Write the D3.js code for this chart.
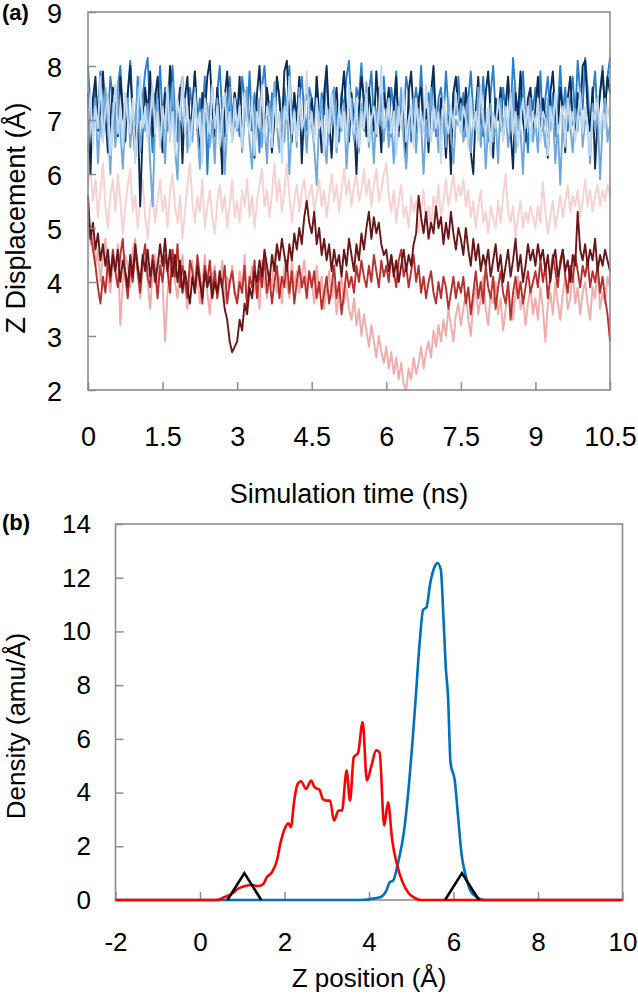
<!DOCTYPE html>
<html><head><meta charset="utf-8">
<script src="https://cdn.jsdelivr.net/npm/d3@7"></script>
<style>
body{margin:0;background:#fff}
svg{display:block}
text{font-family:Arial,"Liberation Sans",sans-serif;fill:#000}
</style>
</head><body>
<script>
// ---------- Panel (a): Z displacement vs simulation time ----------
const timeStep = 0.05; // ns between samples
const timeTicks = [0, 1.5, 3, 4.5, 6, 7.5, 9, 10.5];
const dispTicks = [2, 3, 4, 5, 6, 7, 8, 9];

const palePink = [
5.8,6.1,5.5,5.9,5.2,5.7,6.2,5.4,5.0,5.6,5.9,5.3,6.0,5.5,4.9,5.4,5.8,6.1,5.3,5.6,5.0,5.5,5.9,5.2,4.8,5.4,5.7,5.1,5.5,5.9,
5.3,5.6,5.0,5.7,6.0,5.4,5.1,5.6,4.8,5.3,5.8,6.2,5.5,5.1,5.6,5.3,5.9,5.0,5.4,5.7,5.2,4.9,5.5,5.8,5.3,5.6,5.0,5.4,5.9,5.2,
5.5,5.1,5.7,5.4,5.9,5.2,5.6,5.0,5.5,5.8,6.1,5.4,5.7,5.2,5.6,6.2,5.5,5.9,5.3,5.7,6.2,5.6,5.1,5.5,5.8,5.3,5.7,5.9,5.4,5.6,
5.8,5.3,5.6,5.9,5.4,5.7,5.2,5.6,6.0,5.5,5.8,5.3,5.7,6.1,5.6,5.9,5.4,5.8,6.0,5.5,5.7,6.1,5.6,5.9,5.4,5.8,6.1,5.5,5.7,6.0,
6.2,5.6,5.3,5.7,5.1,5.5,5.8,5.2,5.4,5.0,5.6,5.3,5.5,4.9,5.3,5.7,5.1,5.4,5.0,5.6,5.3,5.8,5.2,5.5,5.9,5.4,5.7,6.0,5.5,5.8,
5.6,5.9,5.4,5.7,5.2,5.5,5.0,5.4,5.7,5.1,5.3,4.9,5.4,5.2,5.0,5.5,5.1,5.6,6.0,5.3,5.1,5.4,4.8,5.2,5.5,5.0,5.3,5.1,5.4,5.2,
5.0,5.4,5.1,5.85,5.3,4.9,5.2,5.5,5.0,5.3,5.6,5.2,5.5,5.8,5.3,5.6,5.4,5.7,5.2,5.5,5.9,5.4,5.7,5.3,5.6,5.8,5.4,5.7,5.5,5.8,
5.6];
const pink = [
5.3,4.7,4.9,4.3,4.6,4.0,4.5,4.8,4.1,3.8,4.4,4.2,4.7,3.2,4.0,4.5,4.3,3.9,4.6,4.8,4.1,3.7,4.3,4.6,4.0,3.5,4.2,4.5,3.9,4.4,
4.0,2.9,3.8,4.3,4.6,4.0,3.7,4.2,4.5,3.9,3.5,4.1,4.4,3.8,4.2,3.6,4.0,4.5,3.8,3.4,4.1,4.3,3.7,4.0,4.4,3.6,4.1,3.9,4.3,3.8,
3.7,4.2,3.9,4.5,3.6,4.0,4.3,3.8,4.1,3.5,4.4,4.0,3.7,4.2,3.9,4.5,3.8,4.1,3.6,4.3,4.0,3.7,4.4,3.9,4.2,3.8,4.1,4.4,3.9,4.2,
4.0,3.6,4.3,3.8,4.1,3.5,3.9,4.2,3.7,4.0,3.4,3.8,4.1,3.6,3.9,3.5,3.3,3.7,3.2,3.5,3.0,3.4,3.1,2.8,3.2,2.9,2.6,3.0,2.7,2.5,
2.8,2.4,2.7,2.3,2.6,2.2,2.5,2.1,2.0,2.4,2.2,2.6,2.3,2.5,2.8,2.4,2.7,2.9,2.6,3.1,2.8,3.2,2.9,3.3,3.0,3.5,3.2,2.9,3.4,3.6,
3.2,3.5,3.8,3.3,3.0,3.6,3.9,3.4,3.7,4.1,3.5,3.2,3.8,3.6,4.0,3.4,3.7,3.1,3.5,3.9,3.6,3.3,3.8,4.1,3.5,3.7,3.2,3.6,3.9,3.4,
3.7,3.3,3.9,3.5,2.9,3.6,3.8,3.4,4.0,3.6,3.3,3.8,4.1,3.5,3.7,4.2,3.6,3.9,3.4,3.8,4.0,3.6,3.3,3.9,3.7,4.3,3.5,3.8,3.6,4.1,
3.9];
const red = [
5.1,4.9,4.6,4.3,3.9,3.6,4.1,3.8,4.4,4.0,4.6,4.2,3.9,4.5,4.8,4.1,3.7,4.3,4.0,4.6,4.2,3.8,4.4,4.7,4.1,3.9,4.5,4.2,3.7,4.3,
4.0,4.5,4.2,3.8,4.6,4.1,4.7,3.9,4.3,4.0,3.7,4.4,4.2,3.8,4.5,4.1,3.6,4.3,4.0,4.4,3.8,4.2,3.7,4.1,3.9,4.3,3.6,4.0,4.2,3.8,
3.6,4.0,3.8,4.3,3.5,4.1,3.9,4.4,3.7,4.2,3.9,4.5,3.8,4.1,3.6,4.0,4.3,3.7,4.1,3.9,4.4,3.8,4.2,3.6,4.0,4.3,3.9,4.1,3.7,4.2,
3.9,4.2,3.7,4.0,3.5,3.8,4.1,3.6,3.9,4.3,3.7,4.0,3.4,3.8,4.2,3.9,4.1,3.8,4.3,4.0,4.4,4.1,3.9,4.3,4.0,4.5,4.2,3.9,4.4,4.1,
4.3,4.0,4.5,4.2,3.9,4.4,4.6,4.1,4.3,3.9,4.2,4.5,4.0,4.3,3.8,4.1,3.7,4.0,4.2,3.8,3.6,4.0,3.7,4.1,3.9,3.5,3.8,4.1,3.7,4.0,
3.8,4.1,3.6,3.9,3.4,3.8,4.2,3.7,4.0,3.6,4.3,3.9,3.7,4.1,3.5,3.9,4.2,3.8,3.6,4.0,3.3,3.8,4.1,3.7,4.0,3.6,3.9,4.2,3.8,4.0,
4.2,3.9,4.4,4.0,4.3,3.7,4.1,4.5,4.2,3.9,4.4,4.6,4.1,3.8,4.3,4.0,4.5,4.2,3.9,4.3,4.1,4.4,3.9,4.2,4.0,4.3,3.8,4.1,3.7,3.4,
2.9];
const maroon = [
5.6,4.8,5.1,4.6,4.9,4.4,4.7,4.3,4.6,4.1,4.5,4.2,4.6,4.0,4.4,4.2,3.9,4.5,4.1,4.7,4.3,4.0,4.5,4.2,4.6,4.1,4.4,4.0,4.3,4.7,
4.3,4.8,4.2,4.6,4.1,4.5,4.0,4.4,3.8,4.2,3.9,3.6,4.1,3.8,4.3,4.0,3.7,4.2,3.9,4.1,3.7,4.0,3.8,4.2,3.9,3.5,3.3,2.9,2.7,2.8,
2.9,3.3,3.1,3.6,3.4,3.9,3.7,4.2,4.0,4.4,4.1,4.6,4.3,4.0,4.5,4.2,4.7,4.4,4.8,4.5,4.2,4.7,4.4,4.9,4.6,5.0,4.7,5.2,5.5,5.1,
4.9,5.3,4.7,5.0,4.5,4.8,4.4,4.7,4.2,4.6,4.3,4.5,4.1,4.6,4.3,4.8,4.5,4.2,4.7,4.4,4.9,4.6,5.0,5.3,4.8,5.2,4.9,5.1,4.7,4.5,
4.6,4.2,4.5,4.1,4.4,4.0,4.3,4.6,4.2,4.5,4.3,4.7,4.9,5.6,5.2,4.9,5.3,4.8,5.1,4.9,5.4,5.0,5.2,4.7,5.1,4.8,5.3,4.9,4.6,5.0,
4.8,4.5,5.0,4.6,4.3,4.8,4.4,4.7,4.2,4.5,4.3,4.6,4.1,4.4,4.7,4.2,4.5,4.0,4.3,4.6,4.1,4.4,4.8,4.2,4.5,4.0,4.3,4.7,4.4,4.6,
4.3,4.7,4.4,4.6,4.2,4.5,4.0,4.4,4.6,4.1,4.3,4.6,4.2,4.4,4.0,4.5,4.3,5.3,4.6,4.4,4.7,4.3,4.6,4.4,4.8,4.2,4.5,4.3,4.6,4.4,
4.2];
const brightBlue = [
8.0,7.2,6.7,7.6,7.1,7.9,6.8,7.5,7.0,7.8,7.4,6.6,7.6,8.0,7.1,6.8,7.5,8.1,7.2,6.7,7.8,7.0,7.4,7.9,8.15,7.1,6.4,7.5,7.2,8.0,
7.0,7.6,6.8,7.4,8.0,7.1,6.6,7.5,7.8,7.0,6.7,7.6,7.2,7.9,6.8,7.4,7.0,7.8,6.0,7.2,7.6,6.8,7.5,8.0,7.1,6.7,7.4,7.8,7.0,7.5,
7.2,6.7,7.8,7.4,7.0,7.9,6.8,7.5,7.1,6.4,7.6,8.0,7.2,6.8,7.5,7.0,7.8,7.4,6.6,7.6,7.1,8.0,7.0,7.5,6.7,7.4,7.8,7.1,6.8,7.6,
7.4,7.0,7.8,6.7,7.5,7.1,7.9,6.8,7.4,7.6,7.0,6.6,7.5,7.2,7.8,8.1,7.1,6.7,7.6,7.4,8.05,7.2,6.8,7.5,7.9,7.0,6.7,7.6,7.2,7.8,
7.1,6.8,7.6,7.2,7.9,6.7,7.4,7.0,7.8,7.5,6.6,7.2,7.6,7.1,8.0,7.0,6.8,7.5,7.2,7.8,6.7,7.4,7.6,7.0,7.9,7.2,6.8,7.5,7.1,7.8,
7.0,7.5,6.7,7.4,7.9,7.1,6.8,7.6,7.2,7.8,7.0,6.6,7.5,8.0,7.1,7.4,6.8,7.6,7.2,7.8,7.0,8.15,7.5,6.8,7.4,7.9,7.0,6.4,7.5,7.2,
7.6,7.1,7.9,6.8,7.4,7.8,7.0,7.5,6.7,7.2,8.0,7.1,7.6,6.8,7.4,7.8,7.0,8.1,7.5,7.2,8.15,7.6,6.8,7.4,7.9,7.0,7.5,8.0,7.2,7.8,
8.15];
const navy = [
7.5,6.0,7.4,7.8,6.8,7.2,7.9,7.1,6.4,7.0,7.6,7.4,6.7,7.8,7.2,6.6,7.5,8.0,7.0,6.3,7.2,5.4,6.8,7.6,7.1,7.9,6.7,7.4,7.8,7.0,
6.4,7.5,7.1,8.0,7.2,6.6,7.0,7.6,6.2,7.4,7.8,6.8,7.2,7.9,7.0,6.3,7.5,7.1,7.8,8.1,7.2,6.7,7.6,7.0,6.0,7.4,7.9,7.1,6.7,7.5,
7.0,7.8,6.6,7.2,7.6,6.8,7.4,6.3,7.5,8.0,7.1,6.7,7.6,7.2,6.4,7.0,7.8,7.4,6.8,7.9,8.1,7.1,6.6,7.5,7.0,7.8,6.2,7.2,7.6,7.0,
7.4,6.7,7.8,7.1,6.4,7.5,8.0,7.0,6.3,7.2,7.6,6.8,7.4,7.9,7.1,6.6,7.5,7.0,6.0,7.2,7.8,7.4,6.7,7.6,7.1,6.8,7.9,7.2,6.4,7.5,
7.1,7.6,6.7,7.2,7.8,6.8,7.4,7.0,6.2,7.5,7.9,7.1,6.6,7.4,7.6,6.8,7.2,6.4,7.5,8.0,7.0,6.7,7.4,7.1,6.3,7.2,6.0,7.5,7.8,7.1,
7.4,6.8,7.6,7.1,6.4,6.0,7.2,7.8,7.0,6.7,7.5,7.9,7.1,6.3,7.4,7.0,7.6,6.7,7.2,7.8,6.8,6.1,7.5,7.1,7.9,7.0,6.6,7.4,7.6,6.8,
7.2,7.8,6.7,7.4,7.0,6.3,7.5,7.9,7.1,6.8,7.6,7.2,6.4,7.4,7.8,7.0,6.7,7.5,7.1,8.0,8.1,7.2,6.8,7.6,6.1,7.0,7.5,7.9,7.2,7.8,
7.5];
const midBlue = [
6.4,7.2,6.8,7.4,6.2,7.0,6.6,7.6,6.9,6.0,7.3,6.5,7.7,6.8,6.1,7.0,7.4,6.5,7.2,6.9,7.6,6.4,7.0,6.8,7.3,6.2,5.4,6.9,7.4,6.6,
7.0,6.2,7.3,6.8,7.7,6.5,5.9,7.2,6.9,7.4,6.4,7.0,6.6,7.6,6.8,6.1,7.2,6.9,7.3,6.5,7.0,6.2,7.4,6.8,7.2,6.0,6.9,7.6,6.6,7.0,
6.8,7.3,6.4,7.0,7.6,6.6,6.1,7.2,6.9,7.4,6.5,7.0,6.2,7.3,6.8,7.7,6.9,6.4,7.2,6.6,7.4,6.0,6.9,7.2,6.5,7.6,6.8,7.0,6.4,7.3,
6.9,6.5,5.8,7.0,7.4,6.6,6.2,7.2,6.9,7.6,6.4,7.0,6.8,7.3,6.1,6.9,7.4,6.6,7.0,6.4,7.3,6.8,7.7,6.5,7.0,6.2,7.2,6.9,7.4,6.6,
7.2,6.5,7.0,6.2,7.3,6.9,7.6,6.6,6.1,7.0,6.8,7.4,6.4,7.2,6.9,6.0,7.0,6.6,7.6,6.8,7.2,6.4,6.9,7.3,6.5,7.4,6.8,6.2,7.0,6.9,
7.3,6.6,6.9,7.4,6.4,7.0,6.8,7.6,6.5,7.2,6.1,6.9,7.3,6.6,7.0,6.2,7.4,6.8,7.2,6.5,6.9,7.6,6.4,7.0,6.8,6.0,7.2,6.9,7.4,6.6,
7.0,6.4,7.3,6.9,6.5,7.4,6.8,7.2,6.2,6.9,5.8,7.0,6.6,7.4,6.9,6.4,7.2,6.8,7.6,6.5,7.0,6.9,6.2,7.3,6.8,7.2,5.9,6.9,7.4,6.6,
6.9];
const paleBlue = [
7.0,7.5,6.5,7.25,6.85,7.8,6.6,7.15,7.4,6.35,7.0,7.65,6.75,7.25,6.5,7.5,7.0,6.75,7.4,6.2,7.15,7.8,6.85,7.25,6.6,7.0,7.65,6.75,7.15,6.5,
7.25,6.85,7.65,6.6,7.15,6.35,7.4,7.0,7.8,6.75,7.25,6.5,7.0,7.5,6.85,7.15,6.2,7.4,7.0,6.75,7.65,6.85,7.25,6.5,7.0,7.5,6.75,7.15,6.6,7.4,
6.85,7.25,6.5,7.5,7.0,6.75,7.4,6.35,7.15,6.85,7.65,6.6,7.25,7.0,6.5,7.4,6.85,7.15,6.2,7.25,7.0,7.8,6.75,7.15,6.6,7.4,6.85,7.0,7.9,6.75,
7.15,6.6,7.4,6.85,7.0,6.35,7.25,6.75,7.5,7.0,6.5,7.25,6.85,7.15,6.6,7.65,7.0,6.75,7.4,6.5,7.15,6.85,7.5,6.6,7.0,7.25,6.75,7.15,8.0,6.85,
7.0,7.4,6.75,7.15,6.35,7.25,6.85,7.5,6.6,7.0,7.25,6.5,7.4,6.85,7.15,6.75,7.65,7.0,6.6,7.25,6.85,7.15,6.2,7.4,7.0,6.75,7.25,6.85,7.5,7.0,
6.75,7.25,7.0,6.5,7.4,6.85,7.15,6.6,7.65,7.0,6.75,7.25,6.35,7.15,6.85,7.4,7.0,6.6,7.25,6.85,7.5,6.75,7.15,6.5,7.0,7.4,6.85,7.25,6.6,7.15,
6.85,7.4,6.6,7.15,7.0,6.35,7.25,6.85,7.5,6.75,7.0,7.25,6.5,7.4,6.85,7.15,6.6,7.0,7.5,6.75,7.25,6.85,6.35,7.15,7.0,7.4,6.75,7.15,6.85,7.25,
7.0];

const seriesA = [
  {name: "palePink", values: palePink, color: "#f8d0d0"},
  {name: "pink", values: pink, color: "#f2aaaa"},
  {name: "red", values: red, color: "#b8302e"},
  {name: "maroon", values: maroon, color: "#6a1518"},
  {name: "brightBlue", values: brightBlue, color: "#2780cf"},
  {name: "navy", values: navy, color: "#0c2c55"},
  {name: "midBlue", values: midBlue, color: "#6ea8dd"},
  {name: "paleBlue", values: paleBlue, color: "#c2daf0"}
];

// ---------- Panel (b): density profile ----------
const zTicks = [-2, 0, 2, 4, 6, 8, 10];
const densTicks = [0, 2, 4, 6, 8, 10, 12, 14];
const redZ = [-2,0.4,0.57,0.77,0.89,1.05,1.21,1.38,1.5,1.58,1.7,1.82,1.9,2.02,2.09,2.15,2.23,2.31,2.39,2.51,2.63,2.71,2.83,2.91,3.0,3.08,3.17,3.28,3.36,3.47,3.55,3.64,3.74,3.85,3.95,4.05,4.17,4.25,4.36,4.45,4.55,4.66,4.78,4.94,5.06,5.22,10];
const redD = [0,0,0.1,0.25,0.41,0.51,0.56,0.52,0.6,0.85,1.03,1.47,2.09,2.71,2.86,2.71,3.7,4.32,4.42,4.14,4.45,4.2,4.1,3.75,3.7,3.7,2.96,3.33,3.33,4.82,3.7,5.32,5.47,6.63,4.45,4.95,5.57,5.5,2.77,3.64,2.21,1.34,0.72,0.25,0.1,0,0];
const blueZ = [-2,3.8,4.13,4.29,4.41,4.49,4.57,4.7,4.82,4.94,5.02,5.1,5.2,5.28,5.36,5.45,5.55,5.62,5.7,5.76,5.82,5.87,5.93,6.03,6.11,6.19,6.28,6.4,6.56,6.72,10];
const blueD = [0,0,0.06,0.12,0.35,0.66,0.72,1.47,2.46,4.2,5.7,7.4,9.6,10.8,10.9,11.8,12.4,12.55,12.3,10.6,8.6,7.6,5.1,4.45,3.08,1.71,0.97,0.35,0.1,0,0];
const tri1Z = [0.65, 1.05, 1.45];
const tri2Z = [5.8, 6.2, 6.6];
const triD = [0, 1, 0];

// ---------- drawing ----------
const W = 638, H = 998, FSA = 27, FSB = 26;
const svg = d3.select("body").append("svg").attr("width", W).attr("height", H);
const boxColor = "#8c8c8c";

// Panel A
const xA = d3.scaleLinear().domain([0, 10.5]).range([88, 610]);
const yA = d3.scaleLinear().domain([2, 9]).range([390, 12]);
const gA = svg.append("g");

const lineA = d3.line().x((d, i) => xA(i * timeStep)).y(d => yA(d));
seriesA.forEach(s => {
  gA.append("path").datum(s.values).attr("d", lineA)
    .attr("fill", "none").attr("stroke", s.color).attr("stroke-width", 1.9)
    .attr("stroke-linejoin", "round");
});

function styleAxis(fs) {
  return g => {
    g.select(".domain").remove();
    g.selectAll(".tick line").attr("stroke", boxColor).attr("stroke-width", 1.5);
    g.selectAll(".tick text").attr("font-size", fs).attr("font-family", "Arial, 'Liberation Sans', sans-serif").attr("fill", "#000");
  };
}

gA.append("g").attr("transform", `translate(${xA(0)},0)`)
  .call(d3.axisLeft(yA).tickValues(dispTicks).tickSize(-8).tickPadding(26).tickFormat(d => String(d)))
  .call(styleAxis(FSA))
  .call(g => g.selectAll(".tick text").attr("dy", "0.4em"));
gA.append("g").attr("transform", `translate(0,${yA(2)})`)
  .call(d3.axisBottom(xA).tickValues(timeTicks).tickSize(-8).tickPadding(37).tickFormat(d => String(d)))
  .call(styleAxis(FSA));
gA.append("rect").attr("x", xA(0)).attr("y", yA(9)).attr("width", xA(10.5) - xA(0)).attr("height", yA(2) - yA(9))
  .attr("fill", "none").attr("stroke", boxColor).attr("stroke-width", 1.6);

svg.append("text").attr("x", 2).attr("y", 20).attr("font-size", 22).attr("font-weight", "bold").text("(a)");
svg.append("text").attr("transform", "translate(25,218) rotate(-90)").attr("text-anchor", "middle")
  .attr("font-size", FSA).text("Z Displacement (Å)");
svg.append("text").attr("x", (xA(0) + xA(10.5)) / 2).attr("y", 503).attr("text-anchor", "middle")
  .attr("font-size", FSA).text("Simulation time (ns)");

// Panel B
const xB = d3.scaleLinear().domain([-2, 10]).range([115.5, 622.5]);
const yB = d3.scaleLinear().domain([0, 14]).range([900, 524]);
const gB = svg.append("g");

gB.append("g").attr("transform", `translate(${xB(-2)},0)`)
  .call(d3.axisLeft(yB).tickValues(densTicks).tickSize(-8).tickPadding(24.5).tickFormat(d => String(d)))
  .call(styleAxis(FSB));
gB.append("g").attr("transform", `translate(0,${yB(0)})`)
  .call(d3.axisBottom(xB).tickValues(zTicks).tickSize(-8).tickPadding(33).tickFormat(d => String(d)))
  .call(styleAxis(FSB));
gB.append("rect").attr("x", xB(-2)).attr("y", yB(14)).attr("width", xB(10) - xB(-2)).attr("height", yB(0) - yB(14))
  .attr("fill", "none").attr("stroke", boxColor).attr("stroke-width", 1.6);

const lineB = d3.line().x(d => xB(d[0])).y(d => yB(d[1])).curve(d3.curveMonotoneX);
gB.append("path").datum(d3.zip(blueZ, blueD)).attr("d", lineB)
  .attr("fill", "none").attr("stroke", "#0070c0").attr("stroke-width", 2.6);
gB.append("path").datum(d3.zip(redZ, redD)).attr("d", lineB)
  .attr("fill", "none").attr("stroke", "#ff0000").attr("stroke-width", 2.6);
const triLine = d3.line().x(d => xB(d[0])).y(d => yB(d[1]));
[tri1Z, tri2Z].forEach(tz => {
  gB.append("path").datum(d3.zip(tz, triD)).attr("d", triLine)
    .attr("fill", "none").attr("stroke", "#000").attr("stroke-width", 2.6).attr("stroke-linejoin", "miter");
});

svg.append("text").attr("x", 2).attr("y", 530).attr("font-size", 22).attr("font-weight", "bold").text("(b)");
svg.append("text").attr("transform", "translate(24.5,726) rotate(-90)").attr("text-anchor", "middle")
  .attr("font-size", FSB).text("Density (amu/Å)");
svg.append("text").attr("x", (xB(-2) + xB(10)) / 2).attr("y", 987).attr("text-anchor", "middle")
  .attr("font-size", FSB).text("Z position (Å)");
</script>
</body></html>
